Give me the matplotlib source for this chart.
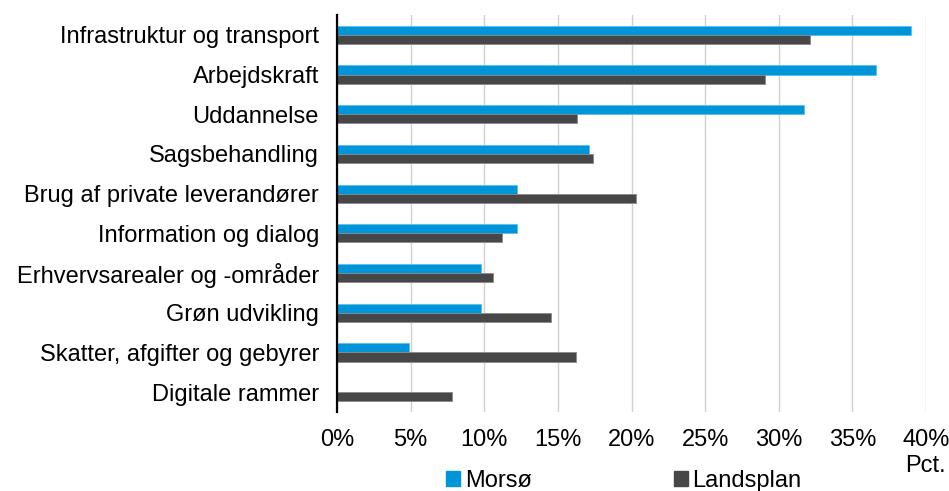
import numpy as np
import matplotlib.pyplot as plt
from matplotlib.patches import Patch
from matplotlib.ticker import FuncFormatter

plt.rcParams['font.family'] = ['Liberation Sans', 'DejaVu Sans']

categories = ['Infrastruktur og transport', 'Arbejdskraft', 'Uddannelse',
              'Sagsbehandling', 'Brug af private leverandører',
              'Information og dialog', 'Erhvervsarealer og -områder',
              'Grøn udvikling', 'Skatter, afgifter og gebyrer', 'Digitale rammer']
morsoe = [39.0, 36.6, 31.7, 17.1, 12.2, 12.2, 9.8, 9.8, 4.9, 0.0]
landsplan = [32.1, 29.1, 16.3, 17.4, 20.3, 11.2, 10.6, 14.5, 16.2, 7.8]
x_ticks = [0, 5, 10, 15, 20, 25, 30, 35, 40]

blue = '#0094D8'
dark = '#474747'
fs = 17

fig = plt.figure(figsize=(9.49, 4.91), dpi=100)
ax = fig.add_axes([337 / 949, 1 - 412 / 491, (926 - 337) / 949, (412 - 15) / 491])

y = np.arange(len(categories))
h = 0.23
ax.barh(y - h / 2, morsoe, height=h, color=blue, edgecolor='#5BC0EE', linewidth=0.6,
        label='Morsø', zorder=3)
ax.barh(y + h / 2, landsplan, height=h, color=dark, edgecolor='#8A8A8A', linewidth=0.6,
        label='Landsplan', zorder=3)

ax.set_ylim(len(categories) - 0.5, -0.5)
ax.set_xlim(0, 40)
ax.set_yticks(y)
ax.set_yticklabels(categories, fontsize=fs)
ax.set_xticks(x_ticks)
ax.xaxis.set_major_formatter(FuncFormatter(lambda v, p: '%d%%' % v))
ax.tick_params(axis='x', length=0, pad=12, labelsize=fs)
ax.tick_params(axis='y', length=0, pad=13)

ax.grid(axis='x', color='#D0D0D0', linewidth=1, zorder=0)
for s in ['top', 'right', 'bottom']:
    ax.spines[s].set_visible(False)
ax.spines['left'].set_linewidth(1.6)
ax.spines['left'].set_color('black')
ax.spines['left'].set_zorder(4)

fig.text(925 / 949, 1 - 466 / 491, 'Pct.', fontsize=fs, ha='center', va='center')

handles = [Patch(color=blue, label='Morsø'), Patch(color=dark, label='Landsplan')]
fig.legend(handles=handles, loc='center', bbox_to_anchor=(624 / 949, 1 - 481 / 491),
           ncol=2, frameon=False, fontsize=fs, handlelength=0.6, handleheight=0.6,
           handletextpad=0.2, columnspacing=6.0, borderpad=0, borderaxespad=0)

fig.savefig('out.png', dpi=100)
